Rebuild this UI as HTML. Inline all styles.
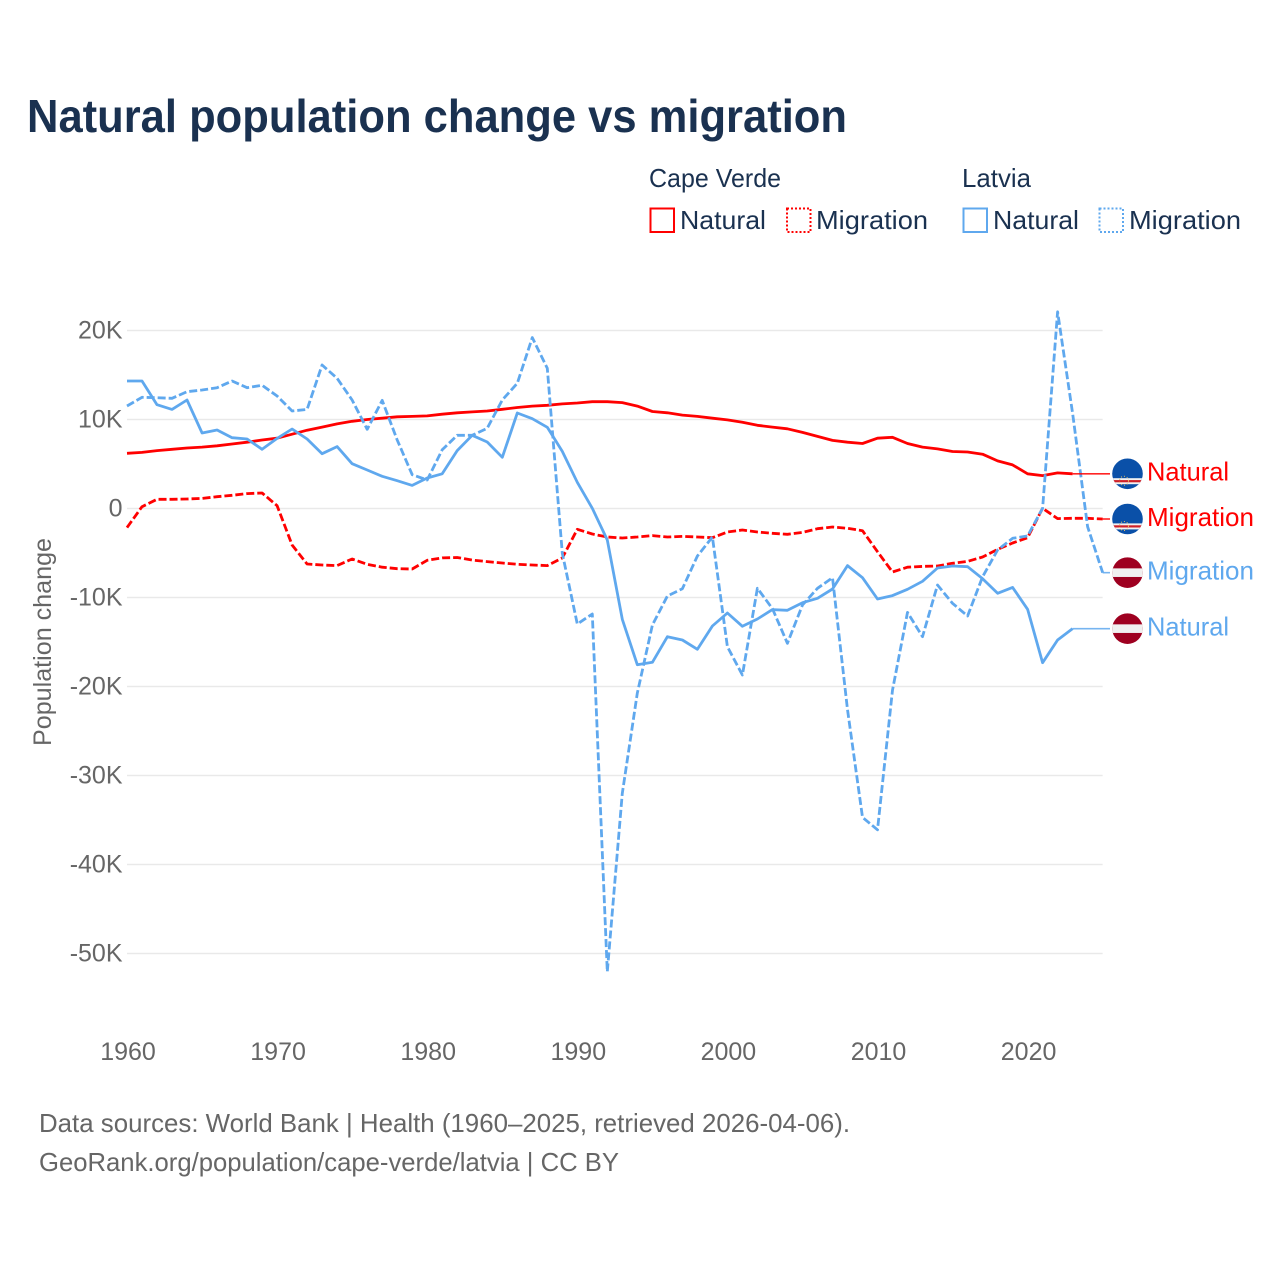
<!DOCTYPE html>
<html lang="en">
<head>
<meta charset="utf-8">
<title>Natural population change vs migration</title>
<style>
html,body{margin:0;padding:0;background:#fff}
svg{display:block}
text{font-family:"Liberation Sans",sans-serif}
</style>
</head>
<body>
<svg id="chart" xmlns="http://www.w3.org/2000/svg" width="1280" height="1280" viewBox="0 0 1280 1280">
  <rect width="1280" height="1280" fill="#ffffff"/>
  <text x="27" y="132" font-size="46" font-weight="700" fill="#1a3150" textLength="820" lengthAdjust="spacingAndGlyphs">Natural population change vs migration</text>

  <g font-size="26" fill="#1a3150">
    <text x="649" y="187" textLength="132" lengthAdjust="spacingAndGlyphs">Cape Verde</text>
    <text x="962" y="187" textLength="69" lengthAdjust="spacingAndGlyphs">Latvia</text>
    <rect x="650.5" y="208.5" width="23.5" height="23.5" fill="none" stroke="#ff0000" stroke-width="2"/>
    <text x="680" y="229" textLength="86" lengthAdjust="spacingAndGlyphs">Natural</text>
    <rect x="787" y="208.5" width="23.5" height="23.5" fill="none" stroke="#ff0000" stroke-width="2" stroke-dasharray="2,2"/>
    <text x="816" y="229" textLength="112" lengthAdjust="spacingAndGlyphs">Migration</text>
    <rect x="963.5" y="208.5" width="23.5" height="23.5" fill="none" stroke="#5fa8ee" stroke-width="2"/>
    <text x="993" y="229" textLength="86" lengthAdjust="spacingAndGlyphs">Natural</text>
    <rect x="1099.5" y="208.5" width="23.5" height="23.5" fill="none" stroke="#5fa8ee" stroke-width="2" stroke-dasharray="2,2"/>
    <text x="1129" y="229" textLength="112" lengthAdjust="spacingAndGlyphs">Migration</text>
  </g>

  <g id="grid"></g>
  <g id="yticks"></g>
  <g id="xticks"></g>
  <text transform="translate(51,746) rotate(-90)" font-size="25" fill="#666666" textLength="208" lengthAdjust="spacingAndGlyphs">Population change</text>
  <g id="series"></g>
  <g id="ends"></g>

  <g font-size="26" fill="#666666">
    <text x="39" y="1132" textLength="811" lengthAdjust="spacingAndGlyphs">Data sources: World Bank | Health (1960–2025, retrieved 2026-04-06).</text>
    <text x="39" y="1171" textLength="580" lengthAdjust="spacingAndGlyphs">GeoRank.org/population/cape-verde/latvia | CC BY</text>
  </g>
</svg>
<script>
const years = [1960,1961,1962,1963,1964,1965,1966,1967,1968,1969,1970,1971,1972,1973,1974,1975,1976,1977,1978,1979,1980,1981,1982,1983,1984,1985,1986,1987,1988,1989,1990,1991,1992,1993,1994,1995,1996,1997,1998,1999,2000,2001,2002,2003,2004,2005,2006,2007,2008,2009,2010,2011,2012,2013,2014,2015,2016,2017,2018,2019,2020,2021,2022,2023,2024,2025];
const yTickValues = [20,10,0,-10,-20,-30,-40,-50];
const yTickLabels = ['20K','10K','0','-10K','-20K','-30K','-40K','-50K'];
const xTickValues = [1960,1970,1980,1990,2000,2010,2020];
const capeVerdeNatural = [6.2,6.3,6.5,6.65,6.8,6.9,7.05,7.25,7.45,7.7,7.9,8.35,8.8,9.15,9.5,9.8,10.0,10.15,10.3,10.35,10.4,10.6,10.75,10.85,10.95,11.15,11.35,11.5,11.6,11.75,11.85,12.0,12.0,11.9,11.5,10.9,10.75,10.5,10.35,10.15,9.95,9.7,9.35,9.15,8.95,8.55,8.1,7.65,7.45,7.3,7.9,8.0,7.3,6.9,6.7,6.4,6.35,6.1,5.35,4.9,3.9,3.7,4.0,3.9];
const capeVerdeMigration = [-2.15,0.2,1.03,1.03,1.07,1.14,1.33,1.48,1.67,1.74,0.32,-4.1,-6.24,-6.35,-6.42,-5.67,-6.27,-6.6,-6.76,-6.8,-5.82,-5.55,-5.5,-5.8,-5.97,-6.12,-6.27,-6.35,-6.42,-5.56,-2.34,-2.87,-3.2,-3.31,-3.2,-3.05,-3.2,-3.13,-3.2,-3.28,-2.64,-2.42,-2.64,-2.79,-2.9,-2.68,-2.27,-2.08,-2.23,-2.49,-4.85,-7.13,-6.6,-6.5,-6.46,-6.16,-5.94,-5.45,-4.59,-3.88,-3.28,0.02,-1.14,-1.1,-1.1,-1.18];
const latviaNatural = [14.33,14.33,11.66,11.14,12.19,8.48,8.82,7.96,7.81,6.65,7.88,8.93,7.81,6.16,6.95,5.03,4.33,3.62,3.12,2.6,3.43,3.9,6.5,8.22,7.47,5.75,10.73,10.09,9.12,6.42,2.94,0.02,-3.54,-12.45,-17.55,-17.28,-14.4,-14.78,-15.82,-13.2,-11.74,-13.24,-12.42,-11.36,-11.44,-10.58,-10.09,-9.04,-6.42,-7.77,-10.17,-9.79,-9.08,-8.18,-6.69,-6.46,-6.54,-7.89,-9.53,-8.86,-11.33,-17.33,-14.78,-13.5];
const latviaMigration = [11.52,12.49,12.45,12.38,13.12,13.31,13.57,14.33,13.57,13.84,12.64,10.96,11.14,16.12,14.63,12.19,8.9,12.15,7.7,3.8,3.2,6.6,8.22,8.22,9.01,12.19,14.07,19.2,15.75,-5.03,-12.98,-11.85,-52.05,-32.0,-20.75,-13.09,-9.83,-9.01,-5.34,-3.2,-15.53,-18.71,-8.97,-11.25,-15.15,-10.84,-8.97,-7.77,-22.6,-34.7,-36.1,-20.4,-11.67,-14.4,-8.6,-10.65,-12.08,-7.66,-4.66,-3.35,-3.09,0.02,22.1,10.7,-2.04,-7.21];

const RED = '#ff0000';
const BLUE = '#5fa8ee';
const NS = 'http://www.w3.org/2000/svg';
function xScale(year) { return 127 + (year - 1960) * 15.01; }
function yScale(k) { return 508.5 - k * 8.9; }
function make(tag, attrs, parent) {
  const el = document.createElementNS(NS, tag);
  for (const k in attrs) el.setAttribute(k, attrs[k]);
  parent.appendChild(el);
  return el;
}

const gridG = document.getElementById('grid');
const yTickG = document.getElementById('yticks');
yTickValues.forEach(function (v, i) {
  const line = make('line', {x1: xScale(1960), x2: xScale(2025), y1: yScale(v), y2: yScale(v), stroke: '#e9e9e9', 'stroke-width': 1.4}, gridG);
  
  
  const t = make('text', {x: 122.5, y: yScale(v) + 8, 'text-anchor': 'end', 'font-size': 25, fill: '#666666'}, yTickG);
  t.textContent = yTickLabels[i];
  
  
});

const xTickG = document.getElementById('xticks');
xTickValues.forEach(function (v) {
  const t = make('text', {x: xScale(v) + 1, y: 1060, 'text-anchor': 'middle', 'font-size': 25, fill: '#666666'}, xTickG);
  t.textContent = String(v);
  
  
});

const seriesG = document.getElementById('series');
const endsG = document.getElementById('ends');

function drawSeries(values, color, dashed, name) {
  const pts = values.map(function (v, i) { return xScale(years[i]).toFixed(1) + ',' + yScale(v).toFixed(1); }).join(' ');
  const attrs = {points: pts, fill: 'none', stroke: color, 'stroke-width': 2.8, 'stroke-linejoin': 'round'};
  if (dashed) attrs['stroke-dasharray'] = '8,3';
  const line = make('polyline', attrs, seriesG);
  
  
}

function drawEnd(values, color, flag, label, name, idx) {
  const last = values.length - 1;
  const yy = yScale(values[last]);
  const startX = xScale(years[last]);
  const cx = 1127.5;
  const g = make('g', {}, endsG);
  
  
  const conn = make('line', {x1: startX, x2: 1110, y1: yy, y2: yy, stroke: color, 'stroke-width': 1.6, opacity: 0.85}, g);
  
  
  const clipId = 'flag-clip-' + idx;
  const cp = make('clipPath', {id: clipId}, g);
  make('circle', {cx: cx, cy: yy, r: 15.3}, cp);
  const fg = make('g', {'clip-path': 'url(#' + clipId + ')'}, g);
  
  
  if (flag === 'cape-verde') {
    make('rect', {x: cx - 16, y: yy - 16, width: 32, height: 32, fill: '#0a50a8'}, fg);
    make('rect', {x: cx - 16, y: yy + 4.4, width: 32, height: 6, fill: '#f2f2f2'}, fg);
    make('rect', {x: cx - 16, y: yy + 6.3, width: 32, height: 2.2, fill: '#cf2027'}, fg);
    make('circle', {cx: cx - 3.5, cy: yy + 7, r: 4.5, fill: 'none', stroke: '#e8c060', 'stroke-width': 1, 'stroke-dasharray': '1,2'}, fg);
  } else {
    make('rect', {x: cx - 16, y: yy - 16, width: 32, height: 32, fill: '#9e0020'}, fg);
    make('rect', {x: cx - 16, y: yy - 4.3, width: 32, height: 8.6, fill: '#f0f0f0'}, fg);
  }
  const t = make('text', {x: 1147, y: yy + 6.8, 'font-size': 26, fill: color, textLength: label === 'Natural' ? 82 : 107, lengthAdjust: 'spacingAndGlyphs'}, g);
  t.textContent = label;
  
  
}

drawSeries(capeVerdeNatural, RED, false, 'cape-verde-natural');
drawSeries(capeVerdeMigration, RED, true, 'cape-verde-migration');
drawSeries(latviaNatural, BLUE, false, 'latvia-natural');
drawSeries(latviaMigration, BLUE, true, 'latvia-migration');

drawEnd(capeVerdeNatural, RED, 'cape-verde', 'Natural', 'cape-verde-natural', 0);
drawEnd(capeVerdeMigration, RED, 'cape-verde', 'Migration', 'cape-verde-migration', 1);
drawEnd(latviaMigration, BLUE, 'latvia', 'Migration', 'latvia-migration', 2);
drawEnd(latviaNatural, BLUE, 'latvia', 'Natural', 'latvia-natural', 3);
</script>
</body>
</html>
